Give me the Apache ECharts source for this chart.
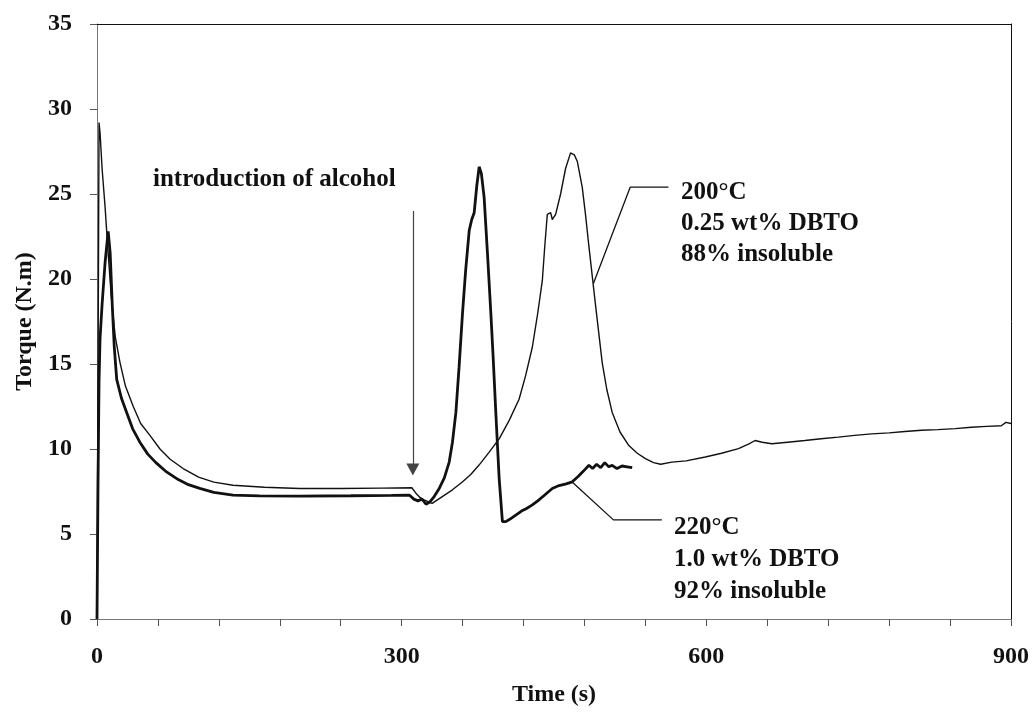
<!DOCTYPE html>
<html>
<head>
<meta charset="utf-8">
<script src="https://cdn.jsdelivr.net/npm/echarts@6/dist/echarts.min.js"></script>
<style>
  html, body { margin: 0; padding: 0; background: #fff; }
  #chart { width: 1034px; height: 712px; }
</style>
</head>
<body>
<div id="chart"></div>
<script>
// Torque traces during reactive extrusion, two formulations
const time200 = [0,1,2,3,5,8,11,14,18,22.6,28,35.7,43,52.1,62,72,84.8,100,115,133.9,165,199.4,240,280,310,314,318,322,326,330,340,350,360,368,376,386,396,406,415.6,422,428.7,434,438.5,441,443.4,446.7,448.3,451.6,456.5,461.4,466.3,470,472.9,477.8,481,484.4,491,497.5,502,507.3,515,523.7,532,540,548,555,566,580,599,615,631.7,642,648,655,664.5,680,697,713,730,746,762.7,780,795.5,812,828,845,861,876,890.4,895,900];
const torque200 = [0,14,29.2,28.6,26.5,24.2,21.5,19,16.6,15.1,13.7,12.5,11.5,10.8,10.0,9.4,8.85,8.35,8.05,7.87,7.75,7.68,7.68,7.7,7.72,7.4,7.15,7.0,6.9,6.8,7.2,7.6,8.07,8.5,9.04,9.8,10.6,11.7,12.93,14.3,16.0,18.0,19.9,22.0,23.8,23.9,23.5,23.8,25.0,26.5,27.42,27.3,26.93,25.4,23.8,21.9,18.4,15.07,13.5,12.15,11.0,10.2,9.75,9.43,9.2,9.1,9.23,9.3,9.53,9.75,10.02,10.3,10.5,10.4,10.31,10.4,10.5,10.6,10.7,10.8,10.89,10.95,11.03,11.1,11.14,11.2,11.28,11.33,11.37,11.57,11.5];

const time220 = [0,1,2,3,5,8,11,13,15,17,19.4,24,29.2,35,42.2,50,58,68.5,80,90,101.2,115,133.9,160,199.4,250,290,307.5,312,316,320,324,328,332,337,342,346.8,350,353.4,356.5,359.9,363,366.5,369,371.4,374,376.3,378.5,381.2,384.5,387.8,390,392.7,396,399.2,402.5,406,412,418,423,428.7,434,440,448.3,455,462,468,474,479,484.4,488,492,496,500,504,507.3,512,517,522,527];
const torque220 = [0,8,14,16.5,18.5,21.0,22.8,21.5,18.5,16,14.1,13,12.15,11.2,10.4,9.7,9.2,8.65,8.2,7.9,7.68,7.45,7.29,7.24,7.23,7.25,7.27,7.29,7.05,6.95,7.05,6.75,6.9,7.2,7.68,8.3,9.23,10.4,12.15,14.8,17.98,20.5,22.85,23.5,23.9,25.5,26.6,26.2,24.8,21.5,18.0,15.5,12.15,8.27,5.73,5.73,5.85,6.1,6.35,6.5,6.71,6.95,7.25,7.68,7.85,7.95,8.07,8.4,8.7,9.04,8.85,9.1,8.9,9.2,8.95,9.04,8.85,9.0,8.95,8.9];

// Axis ranges and tick steps
const xRange = [0, 900];
const xMajorStep = 300;
const yRange = [0, 35];
const yStep = 5;

// Callout leaders (time, torque) and the alcohol-injection arrow
const leader200 = [[562.7, 25.4], [525, 25.4], [488.9, 19.75]];
const leader220 = [[556.2, 5.83], [508.5, 5.83], [467.6, 8.07]];
const alcoholArrow = [[311, 24.0], [311, 8.8]];

// Annotation texts
const label200 = ['200°C', '0.25 wt% DBTO', '88% insoluble'];
const label220 = ['220°C', '1.0 wt% DBTO', '92% insoluble'];
const alcoholText = 'introduction of alcohol';

const zip = (xs, ys) => xs.map((x, i) => [x, ys[i]]);

const FONT = '"Liberation Serif", "Times New Roman", serif';
const INK = '#111';

const chart = echarts.init(document.getElementById('chart'), null, { renderer: 'canvas' });

chart.setOption({
  animation: false,
  backgroundColor: '#fff',
  grid: { left: 97, right: 23, top: 24, bottom: 89 },
  xAxis: [{
    type: 'value',
    min: xRange[0], max: xRange[1], interval: xMajorStep,
    name: 'Time (s)', nameLocation: 'middle', nameGap: 64,
    nameTextStyle: { fontFamily: FONT, fontWeight: 'bold', fontSize: 24, color: INK },
    axisLine: { show: true, lineStyle: { color: '#777', width: 1 } },
    axisTick: { show: true, length: 7, lineStyle: { color: '#555' } },
    minorTick: { show: true, splitNumber: 5, length: 7, lineStyle: { color: '#555' } },
    splitLine: { show: false },
    axisLabel: { margin: 26, fontFamily: FONT, fontWeight: 'bold', fontSize: 24, color: INK }
  }, {
    type: 'value', position: 'top',
    min: xRange[0], max: xRange[1],
    axisLine: { show: true, onZero: false, lineStyle: { color: INK, width: 1 } },
    axisTick: { show: false }, axisLabel: { show: false }, splitLine: { show: false }
  }],
  yAxis: [{
    type: 'value',
    min: yRange[0], max: yRange[1], interval: yStep,
    name: 'Torque (N.m)', nameLocation: 'middle', nameGap: 57, nameRotate: 90,
    nameTextStyle: { fontFamily: FONT, fontWeight: 'bold', fontSize: 24, color: INK },
    axisLine: { show: true, lineStyle: { color: '#777', width: 1 } },
    axisTick: { show: true, length: 7, lineStyle: { color: '#555' } },
    splitLine: { show: false },
    axisLabel: { margin: 25, fontFamily: FONT, fontWeight: 'bold', fontSize: 24, color: INK }
  }, {
    type: 'value', position: 'right',
    min: yRange[0], max: yRange[1],
    axisLine: { show: true, onZero: false, lineStyle: { color: INK, width: 1 } },
    axisTick: { show: false }, axisLabel: { show: false }, splitLine: { show: false }
  }],
  series: [
    {
      name: '200°C', type: 'line', data: zip(time200, torque200),
      showSymbol: false, smooth: false,
      lineStyle: { color: INK, width: 1.4 }, z: 3
    },
    {
      name: '220°C', type: 'line', data: zip(time220, torque220),
      showSymbol: false, smooth: false,
      lineStyle: { color: INK, width: 2.8 }, z: 4
    },
    {
      name: 'leader200', type: 'line', data: leader200,
      showSymbol: false, lineStyle: { color: INK, width: 1.3 }, z: 2
    },
    {
      name: 'leader220', type: 'line', data: leader220,
      showSymbol: false, lineStyle: { color: INK, width: 1.3 }, z: 2,
      markLine: {
        silent: true,
        symbol: ['none', 'triangle'],
        symbolSize: [13, 12],
        label: { show: false },
        lineStyle: { color: '#444', width: 1.2, type: 'solid' },
        data: [[{ coord: alcoholArrow[0] }, { coord: alcoholArrow[1] }]]
      }
    }
  ],
  graphic: [
    {
      type: 'text', x: 153, y: 180,
      style: { text: alcoholText, font: 'bold 25px ' + FONT, fill: INK, verticalAlign: 'middle', align: 'left' }
    },
    {
      type: 'text', x: 681, y: 177,
      style: { text: label200.join('\n'), font: 'bold 25px ' + FONT, lineHeight: 31, fill: INK, verticalAlign: 'top', align: 'left' }
    },
    {
      type: 'text', x: 674, y: 512,
      style: { text: label220.join('\n'), font: 'bold 25px ' + FONT, lineHeight: 32, fill: INK, verticalAlign: 'top', align: 'left' }
    }
  ]
});
</script>
</body>
</html>
